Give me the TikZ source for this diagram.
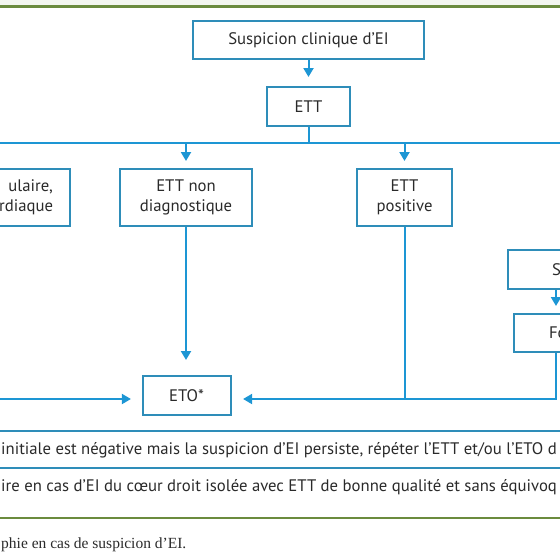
\documentclass[tikz,border=0pt]{standalone}
\usepackage{fontspec}
\setmainfont{PT Sans}
\newfontfamily\capfont{Liberation Serif}
\usetikzlibrary{arrows.meta}
\definecolor{boxblue}{HTML}{2E8DB9}
\definecolor{linkblue}{HTML}{1D96D4}
\definecolor{rulegreen}{HTML}{6B8B3E}
\definecolor{inkgray}{HTML}{2A2A2A}
\begin{document}
\begin{tikzpicture}[x=1pt, y=-1pt,
    font=\fontsize{16.7}{20}\selectfont,
    box/.style={draw=boxblue, line width=2pt, text=inkgray, align=center, inner sep=0pt},
    link/.style={draw=linkblue, line width=2pt},
    arr/.style={link, -{Triangle[width=10pt,length=9pt]}},
    note/.style={text=inkgray, anchor=west, inner sep=0pt}]
    \useasboundingbox (0,0) rectangle (560,560);
    \clip (0,0) rectangle (560,560);
    % rules
    \fill[rulegreen!8] (0,0) rectangle (560,5);
    \draw[rulegreen, line width=2.5pt] (0,6.5) -- (560,6.5);
    % boxes
    \node[box, minimum width=231, minimum height=38] (susp) at (308.5,40) {Suspicion clinique d’EI};
    \node[box, minimum width=83, minimum height=39] (ett) at (308.5,106.5) {ETT};
    \node[box, anchor=east, text width=120, inner xsep=16.7, minimum height=57, align=right] (prosth) at (70.7,197.5) {ulaire,\hspace*{6pt}\\rdiaque};
    \node[box, minimum width=132, minimum height=57] (nondiag) at (186,197.5) {ETT non\\diagnostique};
    \node[box, minimum width=95, minimum height=57] (posit) at (404.5,197.5) {ETT\\positive};
    \node[box, anchor=west, text width=60, inner xsep=44, minimum height=39, align=left] (clin) at (507,269.5) {Su};
    \node[box, anchor=west, text width=60, inner xsep=35, minimum height=38, align=left] (high) at (513,333) {For};
    \node[box, minimum width=88, minimum height=39] (eto) at (186.5,395.5) {ETO*};
    % connectors
    \coordinate (branchL) at (0,143);
    \coordinate (branchR) at (560,143);
    \coordinate (rcol) at (556,0);
    \coordinate (leftin) at (0,399);
    \draw[arr, shorten >=9pt] (susp) -- (ett);
    \draw[link] (ett.south) -- (ett.south |- branchL);
    \draw[link] (branchL) -- (branchR);
    \draw[arr, shorten >=7pt] (nondiag.north |- branchL) -- (nondiag.north);
    \draw[arr, shorten >=7pt] (posit.north |- branchL) -- (posit.north);
    \draw[arr, shorten >=15pt] (nondiag.south) -- (nondiag.south |- eto.north);
    \draw[arr, shorten >=7pt] (clin.south -| rcol) -- (high.north -| rcol);
    \draw[link] (posit.south) -- (posit.south |- leftin);
    \draw[arr, shorten >=11.6pt] (high.south -| rcol) |- (eto.east |- leftin);
    \draw[arr, shorten >=10.6pt] (leftin) -- (eto.west |- leftin);
    % notes
    \draw[boxblue, line width=1.8pt] (0,431) -- (560,431);
    \node[note] (note1) at (1,450) {initiale est négative mais la suspicion d’EI persiste, répéter l’ETT et/ou l’ETO d};
    \draw[boxblue, line width=1.8pt] (0,468) -- (560,468);
    \node[note] (note2) at (1,487) {ire en cas d’EI du cœur droit isolée avec ETT de bonne qualité et sans équivoq};
    \draw[rulegreen, line width=2.5pt] (0,518) -- (560,518);
    \node[note, font=\capfont\fontsize{15.5}{18}\selectfont] (caption) at (1,545) {phie en cas de suspicion d’EI.};
\end{tikzpicture}
\end{document}
